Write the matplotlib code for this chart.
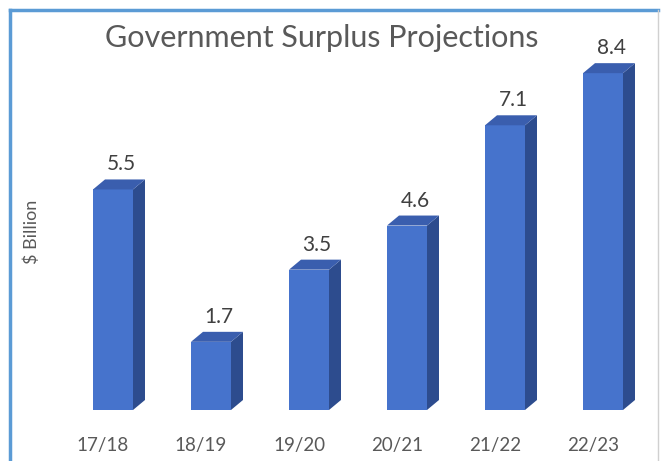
import matplotlib
matplotlib.use("Agg")
import matplotlib.pyplot as plt
from matplotlib.patches import Polygon
from matplotlib.lines import Line2D

# ---------------------------------------------------------------------------
# Data
# ---------------------------------------------------------------------------
years = ["17/18", "18/19", "19/20", "20/21", "21/22", "22/23"]
surplus = [5.5, 1.7, 3.5, 4.6, 7.1, 8.4]

TITLE = "Government Surplus Projections"
YLABEL = "$ Billion"

FRONT = "#4673CC"
SIDE = "#2D4C8E"
TOP = "#3A5EAE"
TEXT = "#595959"

W, H = 662, 461
PX_X = 98.0    # pixels per category
PX_Y = 40.1    # pixels per $bn
X0, Y0 = 113, 410   # pixel position of first bar centre / baseline

plt.rcParams["font.family"] = ["Lato", "DejaVu Sans"]

fig = plt.figure(figsize=(W / 100, H / 100), dpi=100)
ax = fig.add_axes([0, 0, 1, 1])
ax.set_xlim(-X0 / PX_X, (W - X0) / PX_X)
ax.set_ylim(-(H - Y0) / PX_Y, Y0 / PX_Y)
ax.axis("off")

half = 20 / PX_X          # half front width
dx = 12 / PX_X            # depth offset
dy = 10 / PX_Y

for i, v in enumerate(surplus):
    l, r = i - half, i + half
    ax.add_patch(Polygon([(l, 0), (r, 0), (r, v), (l, v)], closed=True,
                         fc=FRONT, ec="none"))
    ax.add_patch(Polygon([(r, 0), (r + dx, dy), (r + dx, v + dy), (r, v)],
                         closed=True, fc=SIDE, ec="none"))
    ax.add_patch(Polygon([(l, v), (r, v), (r + dx, v + dy), (l + dx, v + dy)],
                         closed=True, fc=TOP, ec="none"))
    ax.text(i + 8 / PX_X, v + dy + 5 / PX_Y, f"{v:.1f}", ha="center", va="bottom",
            fontsize=15, color="#404040")
    ax.text(i - 10 / PX_X, -35 / PX_Y, years[i], ha="center", va="center",
            fontsize=13.5, color=TEXT)

fig.text(322 / W, 1 - 38 / H, TITLE, ha="center", va="center",
         fontsize=22, color=TEXT)
fig.text(32 / W, 1 - 232 / H, YLABEL, ha="center", va="center",
         rotation=90, fontsize=13, color=TEXT)

# frame
fx = lambda p: p / W
fy = lambda p: 1 - p / H
fig.add_artist(Line2D([fx(10), fx(10)], [fy(10), 0], color="#5B9BD5", lw=2.5))
fig.add_artist(Line2D([fx(10), fx(658)], [fy(10), fy(10)], color="#5B9BD5", lw=2.5))
fig.add_artist(Line2D([fx(658), fx(658)], [fy(10), 0], color="#D0D0D0", lw=1))

fig.savefig("out.png", dpi=100)
